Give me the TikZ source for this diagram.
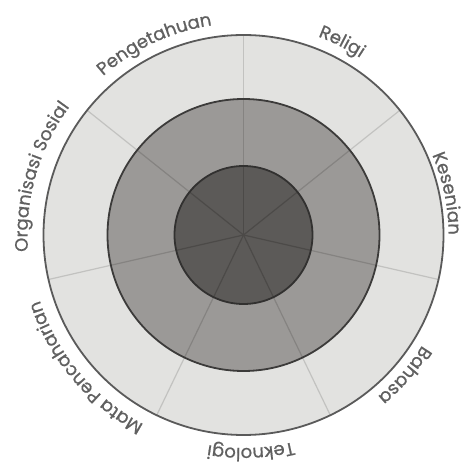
\documentclass[tikz,border=0pt]{standalone}
\usepackage{fontspec}
\newfontfamily\lblfont[FakeBold=0.8]{Poppins}
\usetikzlibrary{decorations.text}
\definecolor{ringA}{HTML}{E2E2E0}
\definecolor{ringB}{HTML}{9B9997}
\definecolor{ringC}{HTML}{5C5A58}
\definecolor{lineA}{HTML}{C2C2C0}
\definecolor{lineB}{HTML}{858381}
\definecolor{lineC}{HTML}{4C4A48}
\definecolor{edgeA}{HTML}{5A5A5A}
\definecolor{edgeB}{HTML}{3C3B3A}
\definecolor{edgeC}{HTML}{323130}
\definecolor{txt}{HTML}{606060}
\tikzset{
  lbl/.style={decorate, decoration={text along path, text align=center,
    text={|\lblfont\fontsize{18}{18}\selectfont\color{txt}|#1}}},
  spoke/.style={line width=1.2pt},
  rim/.style={line width=1.8pt}
}
\begin{document}
\begin{tikzpicture}[x=1pt,y=1pt]
\useasboundingbox (0,0) rectangle (467,468);
\coordinate (c) at (243.5,233);
% outer ring
\fill[ringA] (c) circle (200pt);
\foreach \a in {0,...,6}
  \draw[spoke,lineA,shift={(c)}] (90-\a*51.42857:136pt) -- (90-\a*51.42857:200pt);
% middle ring
\fill[ringB] (c) circle (136pt);
\foreach \a in {0,...,6}
  \draw[spoke,lineB,shift={(c)}] (90-\a*51.42857:69pt) -- (90-\a*51.42857:136pt);
% inner disk
\fill[ringC] (c) circle (69pt);
\foreach \a in {0,...,6}
  \draw[spoke,lineC,shift={(c)}] (0,0) -- (90-\a*51.42857:69pt);
% rims
\draw[rim,edgeA] (c) circle (200pt);
\draw[rim,edgeB] (c) circle (136pt);
\draw[rim,edgeC] (c) circle (69pt);
% labels
\path[lbl={Pengetahuan}] ([shift={(c)}]175:212pt) arc[start angle=175,end angle=55,radius=212pt];
\path[lbl={Religi}] ([shift={(c)}]123:212pt) arc[start angle=123,end angle=3,radius=212pt];
\path[lbl={Kesenian}] ([shift={(c)}]71.5:205pt) arc[start angle=71.5,end angle=-48.5,radius=205pt];
\path[lbl={Bahasa}] ([shift={(c)}]19:210pt) arc[start angle=19,end angle=-101,radius=210pt];
\path[lbl={Teknologi}] ([shift={(c)}]-28:213pt) arc[start angle=-28,end angle=-148,radius=213pt];
\path[lbl={Mata Pencaharian}] ([shift={(c)}]-80:214pt) arc[start angle=-80,end angle=-200,radius=214pt];
\path[lbl={Organisasi Sosial}] ([shift={(c)}]224:216pt) arc[start angle=224,end angle=104,radius=216pt];
\end{tikzpicture}
\end{document}
